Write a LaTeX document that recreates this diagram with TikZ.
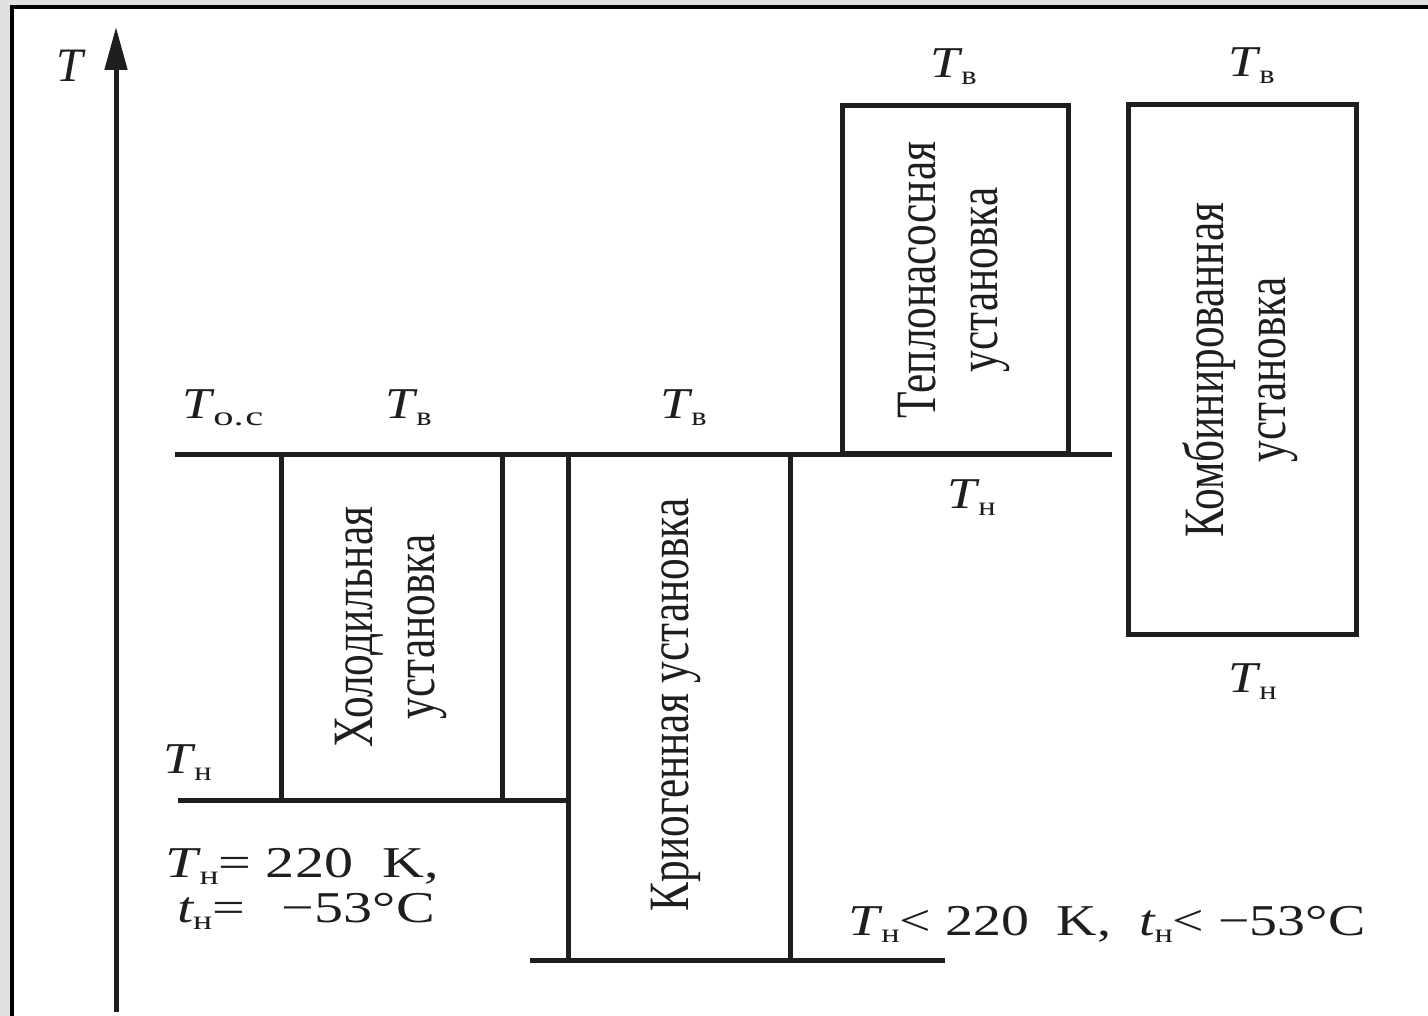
\documentclass[tikz,border=0pt]{standalone}
\usepackage{fontspec}
\setmainfont{Liberation Serif}
\usetikzlibrary{arrows.meta}
\definecolor{ink}{HTML}{1E1E1E}
\definecolor{bggray}{HTML}{E0E0E0}
\newcommand{\lblsize}{\fontsize{44}{48}\selectfont}
\newcommand{\boxsize}{\fontsize{57}{62}\selectfont}
\newcommand{\Tl}[2]{\textit{#1}\kern-1pt\raisebox{-7pt}{\fontsize{27}{28}\selectfont #2}}
\newcommand{\stretchlbl}[2][1.2]{\scalebox{#1}[1]{#2}}
\newcommand{\vtext}[1]{\scalebox{0.76}[1]{\begin{tabular}{@{}c@{}}#1\end{tabular}}}
\begin{document}
\begin{tikzpicture}[x=1pt,y=-1pt,
  level/.style={draw=ink, line width=5pt},
  unit/.style={draw=ink, line width=5pt, fill=none, inner sep=0pt, minimum width=#1},
  unit/.default=220pt,
  boxtext/.style={rotate=90, font=\boxsize, text=ink, inner sep=0pt},
  lbl/.style={font=\lblsize, text=ink, inner sep=0pt, anchor=base west}]
\useasboundingbox (0,0) rectangle (1428,1016);
\fill[bggray] (0,0) rectangle (1428,1016);
\fill[white] (12,7) rectangle (1428,1016);
\draw[black, line width=4.5pt] (12,1016) -- (12,7) -- (1428,7);

% axis
\coordinate (ax0) at (116,1012);
\coordinate (ax1) at (116,27);
\draw[level, -{Triangle[length=43pt,width=22pt]}] (ax0) -- (ax1);
\node[font=\fontsize{48}{50}\selectfont\itshape, text=ink] (tlab) at (70,66) {T};

% level lines
\coordinate (oc-l) at (175,454); \coordinate (oc-r) at (1112,454);
\coordinate (n1-l) at (178,800); \coordinate (n1-r) at (568,800);
\coordinate (n2-l) at (530,960); \coordinate (n2-r) at (945,960);
\draw[level] (oc-l) -- (oc-r);
\draw[level] (n1-l) -- (n1-r);
\draw[level] (n2-l) -- (n2-r);

% boxes
\node[unit=221pt, minimum height=346pt] (hol) at (391.5,627) {};
\node[unit=222pt, minimum height=506pt] (kri) at (679,707) {};
\node[unit=226pt, minimum height=347pt] (tep) at (955,279.5) {};
\node[unit=228pt, minimum height=529pt] (kom) at (1242,369.5) {};

\node[boxtext] (holt) at (391,627) {\vtext{Холодильная\\установка}};
\node[boxtext] (krit) at (676,705) {\vtext{Криогенная установка}};
\node[boxtext] (tept) at (954,280) {\vtext{Теплонасосная\\установка}};
\node[boxtext] (komt) at (1242,370) {\vtext{Комбинированная\\установка}};

% labels
\node[lbl] (l-oc) at (182,418) {\stretchlbl{\Tl{T}{\scalebox{1.25}[1]{о.\kern1pt с}}}};
\node[lbl] (l-v1) at (385,418) {\stretchlbl{\Tl{T}{в}}};
\node[lbl] (l-v2) at (660,418) {\stretchlbl{\Tl{T}{в}}};
\node[lbl] (l-v3) at (930,78) {\stretchlbl{\Tl{T}{в}}};
\node[lbl] (l-v4) at (1228,77) {\stretchlbl{\Tl{T}{в}}};
\node[lbl] (l-n3) at (947,508) {\stretchlbl{\Tl{T}{н}}};
\node[lbl] (l-n4) at (1228,692) {\stretchlbl{\Tl{T}{н}}};
\node[lbl] (l-n1) at (163,773) {\stretchlbl{\Tl{T}{н}}};

\node[lbl] (eq1) at (165,877) {\stretchlbl[1.32]{\Tl{T}{н}= 220\enspace K,}};
\node[lbl] (eq2) at (177,922) {\stretchlbl[1.32]{\Tl{t}{н}=\hspace{28pt}−53°C}};
\node[lbl] (ineq) at (848,935) {\stretchlbl[1.27]{\Tl{T}{н}< 220\enspace K,\enspace \Tl{t}{н}< −53°C}};
\end{tikzpicture}
\end{document}
